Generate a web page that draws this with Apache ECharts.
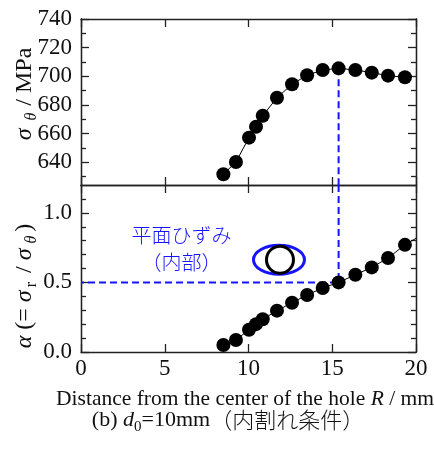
<!DOCTYPE html>
<html><head><meta charset="utf-8">
<script src="https://cdn.jsdelivr.net/npm/echarts@6/dist/echarts.min.js"></script>
<style>html,body{margin:0;padding:0;background:#fff}#c{width:434px;height:450px}</style>
</head><body><div id="c"></div>
<script>
// ---- data ----
const radius = [8.5, 9.25, 10.03, 10.45, 10.85, 11.7, 12.6, 13.5, 14.43, 15.38, 16.38, 17.36, 18.33, 19.34];
const sigmaTheta = [631.5, 640.1, 657.1, 664.7, 672.4, 685, 694.4, 700.7, 704.4, 705.5, 704.4, 702.5, 700.4, 699.3];
const alpha = [0.05, 0.086, 0.16, 0.2, 0.235, 0.297, 0.354, 0.41, 0.46, 0.5, 0.555, 0.608, 0.675, 0.77];
const alphaLineEnd = [20, 0.817];
const xTicks = [0, 5, 10, 15, 20];
const sigmaTicks = [640, 660, 680, 700, 720, 740];
const sigmaMinorTicks = [630, 650, 670, 690, 710, 730];
const alphaTicks = [0, 0.5, 1.0];
const alphaMinorTicks = [0.1, 0.2, 0.3, 0.4, 0.6, 0.7, 0.8, 0.9, 1.1];
const xRange = [0, 20];
const sigmaRange = [624, 740];
const alphaRange = [0, 1.2];
const guideR = 15.38, guideSigma = 705.5, guideAlpha = 0.5;
const ellipseAt = [11.82, 0.663];
const noteAt = [6.0, 0.744];

const AX = '#222';
const SERIF = 'Liberation Serif';
const BLUE = '#1414ff';
const chart = echarts.init(document.getElementById('c'), null, {renderer: 'canvas'});

function xAx(grid, pos, labels) {
  return {
    gridIndex: grid, type: 'value', position: pos, min: xRange[0], max: xRange[1],
    axisLine: {show: true, onZero: false, lineStyle: {color: AX, width: 1.3}},
    axisTick: {show: true, inside: true, length: 8, customValues: xTicks, lineStyle: {color: AX, width: 1.3}},
    axisLabel: labels ? {show: true, customValues: xTicks, margin: 5, fontSize: 23, fontFamily: SERIF, color: '#111'} : {show: false},
    splitLine: {show: false}
  };
}
function yAx(grid, pos, range, ticks, len, labels, fmt) {
  return {
    gridIndex: grid, type: 'value', position: pos, min: range[0], max: range[1],
    axisLine: {show: true, onZero: false, lineStyle: {color: AX, width: 1.3}},
    axisTick: {show: true, inside: true, length: len, customValues: ticks, lineStyle: {color: AX, width: 1.3}},
    axisLabel: labels ? {show: true, customValues: ticks, margin: 9, fontSize: 23, fontFamily: SERIF, color: '#111', formatter: fmt} : {show: false},
    splitLine: {show: false}
  };
}

const option = {
  animation: false,
  backgroundColor: '#fff',
  grid: [
    {left: 81, right: 18, top: 19, height: 166},
    {left: 81, right: 18, top: 185, height: 167}
  ],
  xAxis: [xAx(0, 'bottom', false), xAx(0, 'top', false), xAx(1, 'bottom', true), xAx(1, 'top', false)],
  yAxis: [
    yAx(0, 'left', sigmaRange, sigmaTicks, 8, true, v => String(v)),
    yAx(0, 'left', sigmaRange, sigmaMinorTicks, 5, false),
    yAx(0, 'right', sigmaRange, sigmaTicks, 8, false),
    yAx(0, 'right', sigmaRange, sigmaMinorTicks, 5, false),
    yAx(1, 'left', alphaRange, alphaTicks, 8, true, v => v.toFixed(1)),
    yAx(1, 'left', alphaRange, alphaMinorTicks, 5, false),
    yAx(1, 'right', alphaRange, alphaTicks, 8, false),
    yAx(1, 'right', alphaRange, alphaMinorTicks, 5, false)
  ],
  series: [
    {type: 'line', xAxisIndex: 0, yAxisIndex: 0, z: 1, symbol: 'none', silent: true,
     lineStyle: {color: BLUE, width: 2, type: [7, 4]},
     data: [[guideR, guideSigma], [guideR, sigmaRange[0]]]},
    {type: 'line', xAxisIndex: 0, yAxisIndex: 0, z: 2, symbol: 'none',
     lineStyle: {color: '#000', width: 1},
     data: radius.map((r, i) => [r, sigmaTheta[i]])},
    {type: 'scatter', xAxisIndex: 0, yAxisIndex: 0, z: 3, symbol: 'circle', symbolSize: 14,
     itemStyle: {color: '#000', opacity: 1},
     data: radius.map((r, i) => [r, sigmaTheta[i]])},
    {type: 'line', xAxisIndex: 2, yAxisIndex: 4, z: 1, symbol: 'none', silent: true,
     lineStyle: {color: BLUE, width: 2, type: [7, 4]},
     data: [[guideR, alphaRange[1]], [guideR, guideAlpha], [xRange[0], guideAlpha]]},
    {type: 'line', xAxisIndex: 2, yAxisIndex: 4, z: 2, symbol: 'none',
     lineStyle: {color: '#000', width: 1},
     data: radius.map((r, i) => [r, alpha[i]]).concat([alphaLineEnd])},
    {type: 'scatter', xAxisIndex: 2, yAxisIndex: 4, z: 3, symbol: 'circle', symbolSize: 14,
     itemStyle: {color: '#000', opacity: 1},
     data: radius.map((r, i) => [r, alpha[i]])}
  ]
};
chart.setOption(option);

const ep = chart.convertToPixel({seriesIndex: 5}, ellipseAt);
const np = chart.convertToPixel({seriesIndex: 5}, noteAt);

const main = {fontSize: 24, fontFamily: SERIF, fill: '#111', lineHeight: 30, verticalAlign: 'middle'};
const ital = Object.assign({}, main, {fontStyle: 'italic'});
const sub = {fontSize: 16, fontFamily: SERIF, fill: '#111', lineHeight: 20, verticalAlign: 'bottom', fontStyle: 'italic'};
const subUp = Object.assign({}, sub, {fontStyle: 'normal'});
const cap = Object.assign({}, main, {fontSize: 22});

chart.setOption({
  graphic: [
    {type: 'ellipse', z: 10, shape: {cx: ep[0], cy: ep[1], rx: 25.5, ry: 14.5},
     style: {fill: 'none', stroke: BLUE, lineWidth: 3}},
    {type: 'circle', z: 11, shape: {cx: ep[0] + 1, cy: ep[1], r: 13.5},
     style: {fill: 'none', stroke: '#000', lineWidth: 3}},
    {type: 'text', z: 10, x: np[0], y: np[1],
     style: {text: '平面ひずみ\n（内部）', fontSize: 20, lineHeight: 27, fontFamily: 'Noto Sans CJK JP', fontWeight: 300,
       fill: BLUE, align: 'center', verticalAlign: 'middle'}},
    {type: 'text', z: 10, x: 25, y: 94, rotation: Math.PI / 2,
     style: {text: '{i|σ}{s|θ}{n|/ MPa}', align: 'center', verticalAlign: 'middle',
       rich: {i: Object.assign({}, ital, {padding: [0, 8, 0, 0]}), s: Object.assign({}, sub, {padding: [0, 7, 0, 0]}), n: main}}},
    {type: 'text', z: 10, x: 25, y: 286, rotation: Math.PI / 2,
     style: {text: '{i|α}{n| (= }{i|σ}{u|r}{n| / }{i|σ}{s|θ}{n|)}', align: 'center', verticalAlign: 'middle',
       rich: {i: ital, n: main, s: Object.assign({}, sub, {padding: [0, 4, 0, 5]}), u: Object.assign({}, subUp, {padding: [0, 3, 0, 3]})}}},
    {type: 'text', z: 10, x: 245, y: 399,
     style: {text: '{n|Distance from the center of the hole }{i|R}{n| / mm}', align: 'center', verticalAlign: 'middle',
       rich: {n: Object.assign({}, main, {fontSize: 21.5}), i: Object.assign({}, ital, {fontSize: 21.5})}}},
    {type: 'text', z: 10, x: 228, y: 420,
     style: {text: '{n|(b) }{i|d}{u|0}{n|=10mm}{j|（内割れ条件）}', align: 'center', verticalAlign: 'middle',
       rich: {n: cap, i: Object.assign({}, cap, {fontStyle: 'italic'}),
         u: Object.assign({}, subUp, {fontSize: 15}),
         j: Object.assign({}, cap, {fontFamily: 'Noto Sans CJK JP', fontSize: 22, fontWeight: 300})}}}
  ]
});
</script>
</body></html>
